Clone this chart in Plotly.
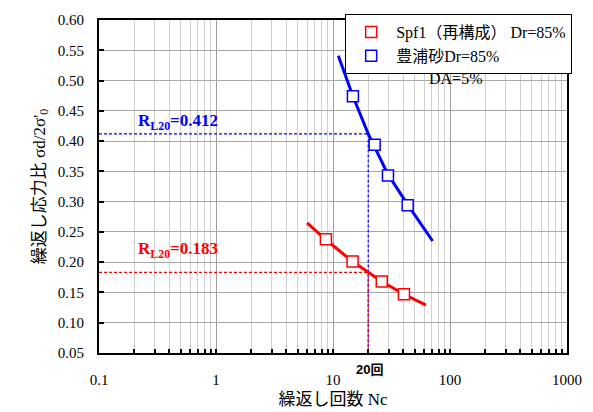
import plotly.graph_objects as go

# ── data ──
spf_n = [8.7, 14.7, 26.1, 40.4]
spf_r = [0.238, 0.201, 0.168, 0.147]
toyo_n = [14.8, 22.7, 29.5, 43.5]
toyo_r = [0.474, 0.394, 0.343, 0.294]

# fitted curves
spf_fit_n = [6.0, 8.7, 14.7, 20.0, 26.1, 40.4, 62.4]
spf_fit_r = [0.265, 0.237, 0.201, 0.183, 0.168, 0.147, 0.129]
toyo_fit_n = [11.1, 14.8, 20.0, 29.5, 43.5, 71.0]
toyo_fit_r = [0.541, 0.474, 0.412, 0.345, 0.295, 0.235]

nc_20 = 20
rl20_spf = 0.183
rl20_toyo = 0.412

x_range = [0.1, 1000]
y_range = [0.05, 0.60]
x_ticks = [0.1, 1, 10, 100, 1000]
x_ticklabels = ['0.1', '1', '10', '100', '1000']

RED = '#ff0000'
BLUE = '#0000ff'
SERIF = '"Liberation Serif", "Times New Roman", "Noto Sans CJK JP", serif'
SANS = '"Liberation Sans", Arial, "Noto Sans CJK JP", sans-serif'

fig = go.Figure()

# ── R_L20 guide lines ──
for rl, col in [(rl20_toyo, BLUE), (rl20_spf, RED)]:
    fig.add_trace(go.Scatter(
        x=[x_range[0], nc_20, nc_20], y=[rl, rl, y_range[0]],
        mode='lines', line=dict(color=col, width=1.2, dash='3px,2px'),
        showlegend=False, hoverinfo='skip',
    ))

# ── fit lines ──
fig.add_trace(go.Scatter(x=spf_fit_n, y=spf_fit_r, mode='lines',
                         line=dict(color=RED, width=3), showlegend=False))
fig.add_trace(go.Scatter(x=toyo_fit_n, y=toyo_fit_r, mode='lines',
                         line=dict(color=BLUE, width=3), showlegend=False))

# ── test points ──
fig.add_trace(go.Scatter(
    x=spf_n, y=spf_r, mode='markers', name='Spf1（再構成） Dr=85%',
    marker=dict(symbol='square', size=11, color='white', line=dict(color=RED, width=1.5)),
))
fig.add_trace(go.Scatter(
    x=toyo_n, y=toyo_r, mode='markers', name='豊浦砂Dr=85%',
    marker=dict(symbol='square', size=11, color='white', line=dict(color=BLUE, width=1.5)),
))

# ── annotations ──
fig.add_annotation(x=-0.684, y=0.432, xref='x', yref='y', text='<b>R<sub>L20</sub>=0.412</b>',
                   showarrow=False, xanchor='left', yanchor='middle',
                   font=dict(family=SERIF, size=17, color=BLUE))
fig.add_annotation(x=-0.684, y=0.220, xref='x', yref='y', text='<b>R<sub>L20</sub>=0.183</b>',
                   showarrow=False, xanchor='left', yanchor='middle',
                   font=dict(family=SERIF, size=17, color=RED))
fig.add_annotation(x=1.316, y=-0.051, xref='x', yref='paper', text='<b>20回</b>',
                   showarrow=False, xanchor='center', yanchor='middle',
                   font=dict(family=SANS, size=13, color='black'))
fig.add_annotation(x=2.043, y=0.503, xref='x', yref='y', text='DA=5%',
                   showarrow=False, xanchor='center', yanchor='middle',
                   font=dict(family=SERIF, size=16, color='black'))

# page body has an 8px margin, so the figure is 8px smaller than the window
fig.update_layout(
    width=585, height=404,
    margin=dict(l=91, r=26, t=12, b=59, autoexpand=False),
    plot_bgcolor='white', paper_bgcolor='white',
    font=dict(family=SERIF, size=15, color='black'),
    legend=dict(x=0.526, y=1.018, xanchor='left', yanchor='top',
                bgcolor='white', bordercolor='black', borderwidth=1,
                font=dict(family=SERIF, size=16), tracegroupgap=0,
                itemwidth=40),
    xaxis=dict(
        type='log', range=[-1, 3], automargin=False,
        tickvals=x_ticks, ticktext=x_ticklabels,
        tickfont=dict(family=SERIF, size=15),
        showline=True, linecolor='black', linewidth=2, mirror=True,
        ticks='inside', ticklen=4, tickcolor='black', tickwidth=1.5,
        showgrid=True, gridcolor='#a0a0a0', gridwidth=1.2,
        minor=dict(dtick='D1', showgrid=True, gridcolor='#d0d0d0', gridwidth=1.2,
                   ticks='inside', ticklen=4, tickcolor='black'),
        ticklabelstandoff=12,
        title=dict(text='繰返し回数 Nc', font=dict(family=SERIF, size=17), standoff=6),
        zeroline=False,
    ),
    yaxis=dict(
        range=y_range, dtick=0.05, tick0=0.05, tickformat='.2f', automargin=False,
        tickfont=dict(family=SERIF, size=15),
        showline=True, linecolor='black', linewidth=2, mirror=True,
        ticks='inside', ticklen=5, tickcolor='black', tickwidth=1.5,
        showgrid=True, gridcolor='#a6a6a6', gridwidth=1.2,
        ticklabelstandoff=10,
        title=dict(text="繰返し応力比 σd/2σ'<sub>0</sub>", font=dict(family=SERIF, size=17), standoff=8),
        zeroline=False,
    ),
)

fig.write_html("out.html")
